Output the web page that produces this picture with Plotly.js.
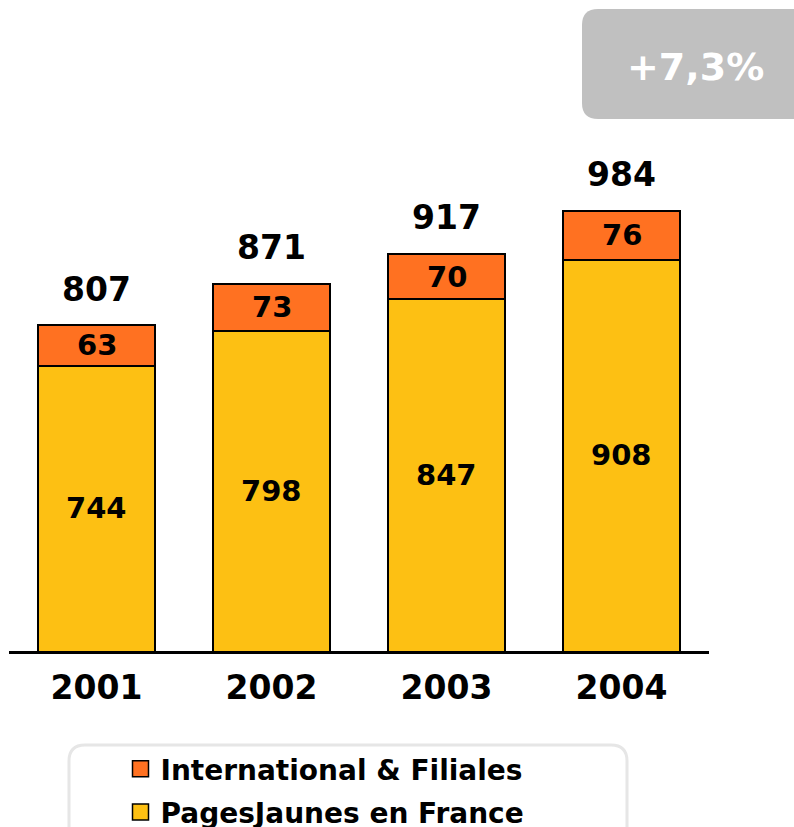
<!DOCTYPE html>
<html>
<head>
<meta charset="utf-8">
<script src="https://cdn.plot.ly/plotly-3.0.1.min.js"></script>
<style>html,body{margin:0;padding:0;background:#fff;}#chart{width:794px;height:827px;}</style>
</head>
<body>
<div id="chart"></div>
<script>
// ---- data ----
const years = ['2001', '2002', '2003', '2004'];
const pagesJaunesFrance = [744, 798, 847, 908];
const internationalFiliales = [63, 73, 70, 76];
const totals = [807, 871, 917, 984];
const seriesNames = ['International & Filiales', 'PagesJaunes en France'];
const growthLabel = '+7,3%';

// ---- style ----
const FONT = 'DejaVu Sans, Verdana, sans-serif';
const ORANGE = '#FF7121';
const YELLOW = '#FDC013';
const W = 794, H = 827;
const M = {l: 9, r: 85, t: 100, b: 176};
const PW = W - M.l - M.r, PH = H - M.t - M.b;
const yRange = [302.4, 302.4 + PH / 0.646];

// pixel -> paper helpers (for decorations only)
const px = x => (x - M.l) / PW;
const py = y => (H - M.b - y) / PH;
function roundRect(x0, y0, x1, y1, r) {
  const P = (x, y) => px(x) + ',' + py(y);
  return 'M' + P(x0 + r, y0) + ' L' + P(x1 - r, y0) + ' Q' + P(x1, y0) + ' ' + P(x1, y0 + r) +
    ' L' + P(x1, y1 - r) + ' Q' + P(x1, y1) + ' ' + P(x1 - r, y1) +
    ' L' + P(x0 + r, y1) + ' Q' + P(x0, y1) + ' ' + P(x0, y1 - r) +
    ' L' + P(x0, y0 + r) + ' Q' + P(x0, y0) + ' ' + P(x0 + r, y0) + ' Z';
}

const barLine = {color: '#000', width: 2};
const traces = [
  {type: 'bar', x: years, y: pagesJaunesFrance, name: seriesNames[1], width: 0.67,
   marker: {color: YELLOW, line: barLine}, showlegend: false, hoverinfo: 'x+y+name'},
  {type: 'bar', x: years, y: internationalFiliales, name: seriesNames[0], width: 0.67,
   marker: {color: ORANGE, line: barLine}, showlegend: false, hoverinfo: 'x+y+name'},
  // legend entries
  {type: 'scatter', x: [null], y: [null], mode: 'markers', name: seriesNames[0], legendgroup: 'a',
   marker: {symbol: 'square', size: 16, color: ORANGE, line: {color: '#000', width: 1.5}}},
  {type: 'scatter', x: [null], y: [null], mode: 'markers', name: seriesNames[1], legendgroup: 'b',
   marker: {symbol: 'square', size: 16, color: YELLOW, line: {color: '#000', width: 1.5}}}
];

const annotations = [];
years.forEach((yr, i) => {
  annotations.push({x: i, y: totals[i], xref: 'x', yref: 'y', text: String(totals[i]),
    showarrow: false, xanchor: 'center', yanchor: 'middle', yshift: 36,
    font: {family: FONT, size: 33, color: '#000', weight: 'bold'}});
  annotations.push({x: i, y: pagesJaunesFrance[i] + internationalFiliales[i] / 2, xref: 'x', yref: 'y',
    text: String(internationalFiliales[i]), showarrow: false, xanchor: 'center', yanchor: 'middle',
    font: {family: FONT, size: 29, color: '#000', weight: 'bold'}});
  annotations.push({x: i, y: (Math.max(yRange[0], 0) + pagesJaunesFrance[i]) / 2, xref: 'x', yref: 'y',
    text: String(pagesJaunesFrance[i]), showarrow: false, xanchor: 'center', yanchor: 'middle',
    font: {family: FONT, size: 29, color: '#000', weight: 'bold'}});
});
annotations.push({x: px(695), y: py(67), xref: 'paper', yref: 'paper', text: growthLabel,
  showarrow: false, xanchor: 'center', yanchor: 'middle',
  font: {family: FONT, size: 38, color: '#fff', weight: 'bold'}});

const layout = {
  width: W, height: H,
  margin: {l: M.l, r: M.r, t: M.t, b: M.b, pad: 0, autoexpand: false},
  paper_bgcolor: '#fff', plot_bgcolor: '#fff',
  barmode: 'stack', bargap: 0.33,
  showlegend: true,
  legend: {x: px(120.5), y: py(744), xanchor: 'left', yanchor: 'top', xref: 'paper', yref: 'paper',
    traceorder: 'grouped', tracegroupgap: 4, bgcolor: 'rgba(0,0,0,0)', borderwidth: 0,
    font: {family: FONT, size: 28, color: '#000', weight: 'bold'}},
  xaxis: {type: 'category', range: [-0.5, 3.5], showline: true, linecolor: '#000', linewidth: 3,
    showgrid: false, zeroline: false, ticks: '', ticklabelstandoff: 5,
    tickfont: {family: FONT, size: 33, color: '#000', weight: 'bold'}, fixedrange: true},
  yaxis: {range: yRange, visible: false, showgrid: false, zeroline: false, fixedrange: true},
  shapes: [
    {type: 'path', xref: 'paper', yref: 'paper', path: roundRect(582, 9, 820, 119, 16),
     fillcolor: '#C0C0C0', line: {width: 0}, layer: 'below'},
    {type: 'path', xref: 'paper', yref: 'paper', path: roundRect(69, 745, 627, 860, 16),
     fillcolor: 'rgba(255,255,255,0)', line: {color: '#E6E6E6', width: 3}, layer: 'below'}
  ],
  annotations: annotations
};

Plotly.newPlot('chart', traces, layout, {displayModeBar: false, staticPlot: true});
</script>
</body>
</html>
